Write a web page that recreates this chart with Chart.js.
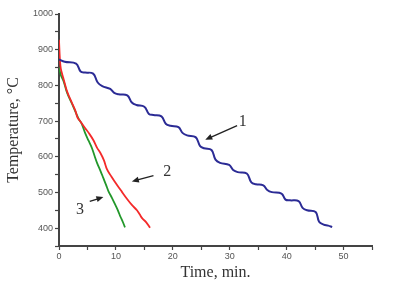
<!DOCTYPE html>
<html>
<head>
<meta charset="utf-8">
<script src="https://cdn.jsdelivr.net/npm/chart.js@4.4.0/dist/chart.umd.min.js"></script>
<style>
  html, body { margin: 0; padding: 0; background: #fff; }
  #grafico { display: block; }
</style>
</head>
<body>
<canvas id="grafico" width="394" height="283"></canvas>
<script>
// curva 1 (azul), escalonada
const tiempo1 = [0, 1.0, 3.0, 3.8, 4.6, 6.0, 6.8, 7.6, 9.0, 9.7, 10.5, 12.0, 12.8, 13.6, 15.0,
  15.8, 16.6, 18.0, 18.8, 19.6, 21.0, 21.7, 22.5, 24.0, 24.8, 25.5, 26.8, 27.5, 28.3, 29.9,
  30.6, 31.4, 33.0, 33.8, 34.6, 35.9, 36.6, 37.4, 39.1, 39.8, 40.6, 42.1, 42.8, 43.6, 45.1,
  45.7, 46.5, 47.3, 48.0];
const temp1 = [873, 866, 861, 839, 836, 833, 808, 798, 790, 779, 775, 772, 752, 745, 740,
  720, 717, 713, 692, 687, 683, 667, 660, 655, 630, 624, 619, 592, 583, 577,
  563, 557, 553, 528, 523, 520, 507, 501, 497, 480, 478, 476, 457, 450, 445,
  418, 410, 407, 403];

// curva 2 (roja)
const tiempo2 = [0, 0.1, 0.25, 0.5, 0.8, 1.4, 2.3, 2.9, 3.2, 3.7, 4.6, 5.3, 6.1, 6.7, 7.3,
  7.9, 8.4, 9.2, 10.2, 11.0, 12.0, 12.8, 13.7, 14.2, 14.6, 15.3, 16.0];
const temp2 = [928, 890, 855, 835, 818, 784, 750, 728, 712, 700, 680, 665, 645, 625, 610,
  590, 566, 545, 521, 503, 481, 465, 450, 438, 428, 417, 401];

// curva 3 (verde)
const tiempo3 = [0, 0.3, 0.8, 1.4, 2.3, 2.9, 3.5, 4.0, 4.6, 5.2, 5.8, 6.3, 6.7, 7.3, 7.8,
  8.3, 8.7, 9.3, 9.9, 10.4, 10.8, 11.2, 11.6];
const temp3 = [850, 830, 812, 780, 748, 726, 705, 692, 666, 645, 624, 600, 582, 560, 540,
  520, 503, 485, 465, 448, 432, 418, 402];

// etiquetas con flecha: [texto, xTexto, yTexto, xDesde, yDesde, xHasta, yHasta]
const etiquetas = [
  ["1", 32.3, 698, 31.3, 687, 25.7, 648],
  ["2", 19.0, 557, 16.6, 547, 12.8, 531],
  ["3", 3.7, 451, 5.4, 475, 7.8, 487]
];

function puntos(xs, ys) {
  return xs.map((x, i) => ({ x: x, y: ys[i] }));
}

const pluginFlechas = {
  id: "flechas",
  afterDatasetsDraw(chart) {
    const c = chart.ctx;
    const sx = chart.scales.x, sy = chart.scales.y;
    c.save();
    etiquetas.forEach(e => {
      const x1 = sx.getPixelForValue(e[3]), y1 = sy.getPixelForValue(e[4]);
      const x2 = sx.getPixelForValue(e[5]), y2 = sy.getPixelForValue(e[6]);
      const ang = Math.atan2(y2 - y1, x2 - x1);
      c.strokeStyle = "#222";
      c.fillStyle = "#222";
      c.lineWidth = 1.4;
      c.beginPath();
      c.moveTo(x1, y1);
      c.lineTo(x2 - 4 * Math.cos(ang), y2 - 4 * Math.sin(ang));
      c.stroke();
      c.beginPath();
      c.moveTo(x2, y2);
      c.lineTo(x2 - 7 * Math.cos(ang) + 3 * Math.sin(ang), y2 - 7 * Math.sin(ang) - 3 * Math.cos(ang));
      c.lineTo(x2 - 7 * Math.cos(ang) - 3 * Math.sin(ang), y2 - 7 * Math.sin(ang) + 3 * Math.cos(ang));
      c.closePath();
      c.fill();
      c.fillStyle = "#333";
      c.font = "16px 'Liberation Serif'";
      c.textAlign = "center";
      c.textBaseline = "middle";
      c.fillText(e[0], sx.getPixelForValue(e[1]), sy.getPixelForValue(e[2]));
    });
    c.restore();
  }
};

const ctx = document.getElementById("grafico");
new Chart(ctx.getContext("2d"), {
  type: "line",
  data: {
    datasets: [
      { data: puntos(tiempo1, temp1), borderColor: "#2b2b95", borderWidth: 2,
        cubicInterpolationMode: "default", tension: 0.4 },
      { data: puntos(tiempo2, temp2), borderColor: "#f42a2a", borderWidth: 1.8 },
      { data: puntos(tiempo3, temp3), borderColor: "#22972a", borderWidth: 1.8 }
    ]
  },
  options: {
    responsive: false,
    devicePixelRatio: 1,
    animation: false,
    layout: { padding: { top: 14, right: 22, left: 0, bottom: 0 } },
    elements: {
      point: { radius: 0 },
      line: { cubicInterpolationMode: "monotone", fill: false }
    },
    plugins: {
      legend: { display: false },
      tooltip: { enabled: false }
    },
    scales: {
      x: {
        type: "linear",
        min: 0,
        max: 55,
        afterFit: s => { s.height = 37; },
        border: { color: "#444", width: 2 },
        grid: { drawOnChartArea: false, tickLength: 4, tickColor: "#444", tickWidth: 1.2 },
        ticks: {
          stepSize: 5,
          autoSkip: false,
          maxRotation: 0,
          padding: 1,
          color: "#555",
          font: { family: "'Liberation Sans'", size: 9 },
          callback: v => (v % 10 === 0 ? v : "")
        },
        title: {
          display: true,
          text: "Time, min.",
          color: "#333",
          font: { family: "'Liberation Serif'", size: 16 },
          padding: { top: 0, bottom: 1 }
        }
      },
      y: {
        min: 350,
        max: 1000,
        afterFit: s => { s.width = 59; },
        border: { color: "#444", width: 2 },
        grid: { drawOnChartArea: false, tickLength: 4, tickColor: "#444", tickWidth: 1.2 },
        ticks: {
          stepSize: 50,
          autoSkip: false,
          padding: 2,
          color: "#555",
          font: { family: "'Liberation Sans'", size: 9 },
          callback: v => (v % 100 === 0 && v >= 400 ? v : "")
        },
        title: {
          display: true,
          text: "Temperature, °C",
          color: "#333",
          font: { family: "'Liberation Serif'", size: 16 },
          padding: { top: 4, bottom: 0 }
        }
      }
    }
  },
  plugins: [pluginFlechas]
});
</script>
</body>
</html>
